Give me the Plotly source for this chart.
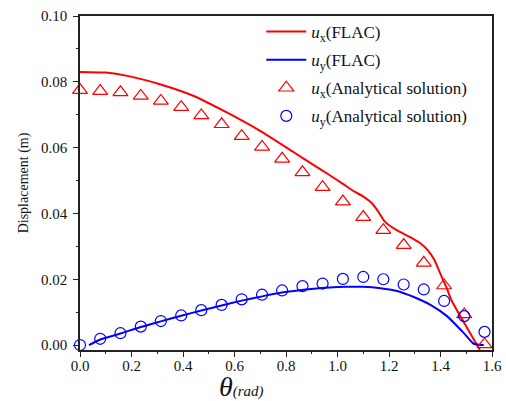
import plotly.graph_objects as go

# FLAC numerical curves
flac_ux_theta = [0.0, 0.1, 0.184, 0.313, 0.442, 0.572, 0.701, 0.83, 0.908, 0.970, 1.021, 1.060, 1.099,
                 1.131, 1.157, 1.183, 1.228, 1.280, 1.319, 1.351, 1.377, 1.396, 1.422, 1.442, 1.49, 1.553]
flac_ux = [0.0830, 0.0828, 0.0818, 0.0792, 0.0757, 0.0706, 0.0650, 0.0586, 0.0547, 0.0516, 0.0490, 0.0469, 0.0452,
           0.0433, 0.0407, 0.0376, 0.0350, 0.0329, 0.0311, 0.0288, 0.0258, 0.0223, 0.0177, 0.0137, 0.0070, -0.0015]

flac_uy_theta = [0.035, 0.0785, 0.157, 0.236, 0.314, 0.393, 0.471, 0.55, 0.628, 0.707, 0.779, 0.908,
                 0.970, 1.037, 1.099, 1.167, 1.228, 1.296, 1.361, 1.425, 1.49, 1.529, 1.568]
flac_uy = [0.0, 0.0017, 0.0035, 0.0055, 0.0072, 0.0089, 0.0105, 0.0120, 0.0135, 0.0148, 0.0159, 0.0171,
           0.0175, 0.0177, 0.0177, 0.0173, 0.0165, 0.0146, 0.0122, 0.0088, 0.0037, 0.0004, 0.0]

# Analytical solution
ana_theta = [0.0, 0.0785, 0.157, 0.236, 0.314, 0.393, 0.471, 0.550, 0.628, 0.707, 0.785,
             0.864, 0.942, 1.021, 1.100, 1.178, 1.257, 1.335, 1.414, 1.492, 1.571]
ana_ux = [0.0775, 0.0772, 0.0768, 0.0757, 0.0742, 0.0723, 0.0698, 0.0671, 0.0635, 0.0602, 0.0566,
          0.0525, 0.0480, 0.0436, 0.0389, 0.0349, 0.0304, 0.0250, 0.0181, 0.0093, 0.0002]
ana_uy = [0.0, 0.0019, 0.0036, 0.0056, 0.0073, 0.0090, 0.0106, 0.0122, 0.0139, 0.0153, 0.0166,
          0.0179, 0.0187, 0.0201, 0.0207, 0.0200, 0.0184, 0.0169, 0.0134, 0.0088, 0.0040]

x_ticks = [0.0, 0.2, 0.4, 0.6, 0.8, 1.0, 1.2, 1.4, 1.6]
y_ticks = [0.00, 0.02, 0.04, 0.06, 0.08, 0.10]
x_range = [0, 1.6]
y_range = [-0.0015, 0.10]

RED = "#FF0000"
BLUE = "#0000FF"
FONT = "Liberation Serif, Times New Roman, serif"
TXT = "#111111"
AX = "#222222"

fig = go.Figure()
fig.add_trace(go.Scatter(x=flac_ux_theta, y=flac_ux, mode="lines",
                         line=dict(color=RED, width=2, shape="spline", smoothing=0.5),
                         name="<i>u</i><sub>x</sub>(FLAC)", legendgroup="a"))
fig.add_trace(go.Scatter(x=flac_uy_theta, y=flac_uy, mode="lines",
                         line=dict(color=BLUE, width=2, shape="spline", smoothing=0.5),
                         name="<i>u</i><sub>y</sub>(FLAC)", legendgroup="b"))
fig.add_trace(go.Scatter(x=ana_theta, y=ana_ux, mode="markers",
                         marker=dict(symbol="triangle-up-open", size=13, color=RED, line=dict(width=1.2, color=RED)),
                         name="<i>u</i><sub>x</sub>(Analytical solution)", cliponaxis=False, legendgroup="c"))
fig.add_trace(go.Scatter(x=ana_theta, y=ana_uy, mode="markers",
                         marker=dict(symbol="circle-open", size=11, color=BLUE, line=dict(width=1.2, color=BLUE)),
                         name="<i>u</i><sub>y</sub>(Analytical solution)", cliponaxis=False, legendgroup="d"))
# invisible trace so the tick-only overlay axes are drawn
fig.add_trace(go.Scatter(x=[x_range[0]], y=[y_range[0]], xaxis="x2", yaxis="y2", mode="markers",
                         marker=dict(opacity=0), showlegend=False, hoverinfo="skip"))

label_axis = dict(showline=True, linecolor=AX, linewidth=1.5, mirror=True, showgrid=False, zeroline=False,
                  ticks="", tickfont=dict(family=FONT, size=15, color=TXT), automargin=False)
tick_axis = dict(showline=False, showgrid=False, zeroline=False, showticklabels=False,
                 ticks="outside", ticklen=6, tickwidth=1.2, tickcolor=AX, automargin=False)

fig.update_layout(
    xaxis=dict(range=x_range, tickvals=x_ticks, ticktext=[f"{v:.1f}" for v in x_ticks],
               ticklabeloverflow="allow", ticklabelstandoff=1, **label_axis),
    yaxis=dict(range=y_range, tickvals=y_ticks, ticktext=[f"{v:.2f}" for v in y_ticks],
               ticklabelstandoff=8,
               title=dict(text="Displacement (m)", font=dict(family=FONT, size=14, color=TXT), standoff=9),
               **label_axis),
    xaxis2=dict(range=x_range, overlaying="x", anchor="y2", side="bottom", tickvals=x_ticks,
                minor=dict(ticks="outside", ticklen=3, tickwidth=1, tickcolor=AX, dtick=0.1), **tick_axis),
    yaxis2=dict(range=y_range, overlaying="y", anchor="x2", side="left", tickvals=y_ticks,
                minor=dict(ticks="outside", ticklen=3, tickwidth=1, tickcolor=AX, dtick=0.01), **tick_axis),
)

fig.add_annotation(text="<i>θ</i><span style='font-size:15px'><i>(rad)</i></span>",
                   xref="paper", yref="paper", x=0.393, y=0, xanchor="center", yanchor="top",
                   yshift=-19, showarrow=False, font=dict(family=FONT, size=28, color=TXT))

fig.update_layout(
    width=506, height=401,
    margin=dict(l=80, r=14, t=16, b=51, autoexpand=False),
    paper_bgcolor="white", plot_bgcolor="white",
    font=dict(family=FONT, size=17, color=TXT),
    legend=dict(x=0.44, y=1.006, xanchor="left", yanchor="top", bgcolor="rgba(0,0,0,0)",
                font=dict(family=FONT, size=17, color=TXT), tracegroupgap=3, itemwidth=40),
    showlegend=True,
)

fig.write_html("out.html", config={"displayModeBar": False},
               post_script="document.body.style.margin='0';document.body.style.padding='0';")
